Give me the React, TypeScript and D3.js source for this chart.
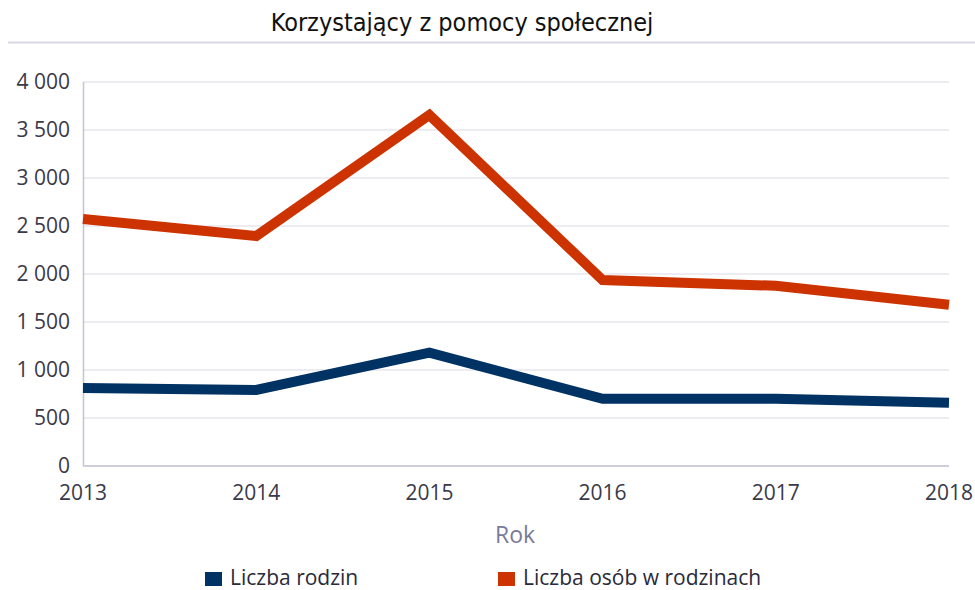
import React from 'react';
import * as d3 from 'd3';

const years = [2013, 2014, 2015, 2016, 2017, 2018];
const rodziny = [812, 792, 1180, 700, 700, 660];
const osoby = [2573, 2396, 3656, 1937, 1877, 1680];
const yTicks = [0, 500, 1000, 1500, 2000, 2500, 3000, 3500, 4000];
const seriesNames = ['Liczba rodzin', 'Liczba osób w rodzinach'];
const seriesColors = ['#003263', '#cc3300'];

const W = 975;
const H = 590;
const margin = { top: 82, right: 26, bottom: 124, left: 83 };
const font = "'Open Sans', 'Noto Sans', sans-serif";

export default function App() {
  const width = W - margin.left - margin.right;
  const height = H - margin.top - margin.bottom;

  const x = d3.scalePoint<number>().domain(years).range([0, width]);
  const y = d3.scaleLinear().domain([0, 4000]).range([height, 0]);

  const line = d3
    .line<number>()
    .x((_, i) => x(years[i]) as number)
    .y((d) => y(d));

  const fmt = (v: number) => d3.format(',')(v).replace(/,/g, ' ');
  const series = [rodziny, osoby];

  return (
    <svg width={W} height={H} style={{ position: 'absolute', left: 0, top: 0, background: '#fff' }}>
      {/* title */}
      <text x={462} y={31} textAnchor="middle" fontFamily="'DejaVu Sans Condensed', 'DejaVu Sans', sans-serif" fontStretch="condensed" fontSize={25} fill="#111">
        Korzystający z pomocy społecznej
      </text>
      <line x1={8} x2={W} y1={42.5} y2={42.5} stroke="#d8d8e4" strokeWidth={2} />

      <g transform={`translate(${margin.left},${margin.top})`}>
        {/* grid */}
        {yTicks.map((t) => (
          <line key={t} x1={0} x2={width} y1={y(t)} y2={y(t)} stroke="#e6e6ee" strokeWidth={1.5} />
        ))}
        {/* axes */}
        <line x1={0.5} x2={0.5} y1={0} y2={height} stroke="#c4c4d4" strokeWidth={1.5} />
        <line x1={0} x2={width} y1={height} y2={height} stroke="#c4c4d4" strokeWidth={1.5} />
        {yTicks.map((t) => (
          <text key={t} x={-13} y={y(t)} dy="0.35em" textAnchor="end" fontFamily={font} fontSize={21} fill="#3a3a4a">
            {fmt(t)}
          </text>
        ))}
        {years.map((yr) => (
          <text key={yr} x={x(yr)} y={height + 34} textAnchor="middle" fontFamily={font} fontSize={21} fill="#3a3a4a">
            {yr}
          </text>
        ))}
        <text x={width / 2 - 1} y={height + 77} textAnchor="middle" fontFamily={font} fontSize={23} fill="#7a7a98">
          Rok
        </text>
        {/* lines */}
        {series.map((s, i) => (
          <path key={i} d={line(s) || ''} fill="none" stroke={seriesColors[i]} strokeWidth={10} strokeLinejoin="miter" />
        ))}
      </g>

      {/* legend */}
      {seriesNames.map((name, i) => {
        const lx = i === 0 ? 205 : 498;
        return (
          <g key={name} transform={`translate(${lx},578)`}>
            <rect x={0} y={-6} width={17} height={14} fill={seriesColors[i]} />
            <text x={25} y={0} dy="0.35em" fontFamily={font} fontSize={21} fill="#2a2a3a">
              {name}
            </text>
          </g>
        );
      })}
    </svg>
  );
}
